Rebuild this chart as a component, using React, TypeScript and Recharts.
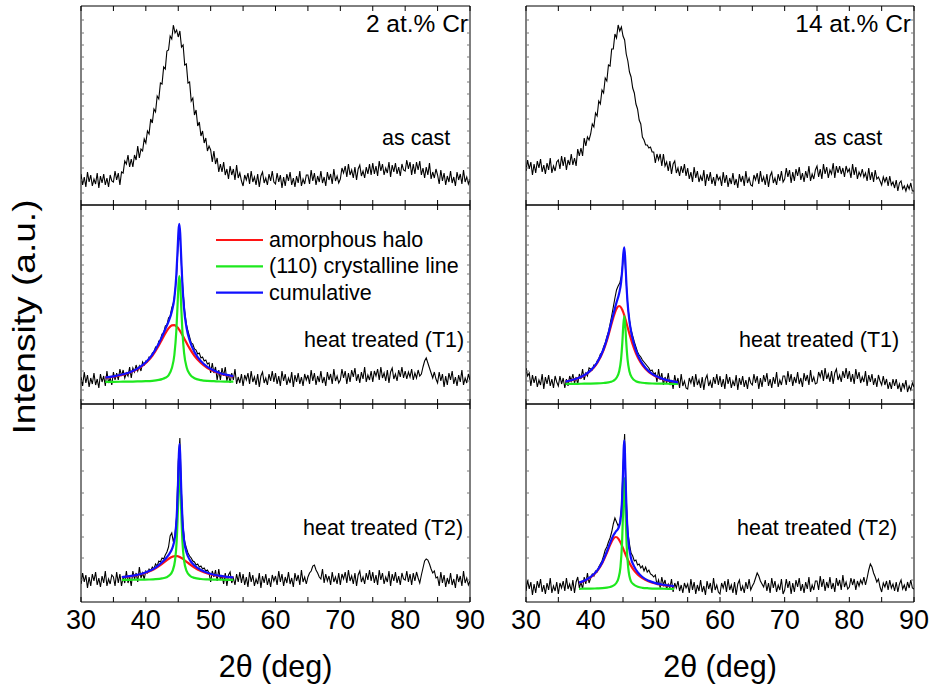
import { LineChart, Line, XAxis, YAxis } from 'recharts'

// XRD patterns, intensity in arbitrary units (height above the panel floor)
// every trace is sampled from 30 to 90 deg in 0.25 deg steps
const X_START = 30
const X_STEP = 0.25

const CAST_2CR = [
	31, 20, 28, 18, 33, 23, 30, 19, 26, 21, 32, 17, 29, 22, 31, 20, 27, 18, 30, 24,
	23, 34, 25, 32, 20, 33, 32, 44, 41, 50, 38, 46, 38, 50, 45, 59, 47, 56, 54, 66,
	62, 74, 71, 86, 82, 96, 93, 109, 106, 122, 121, 138, 136, 154, 155, 169, 166, 180, 172, 175,
	168, 174, 158, 160, 140, 141, 122, 123, 104, 107, 90, 95, 79, 83, 69, 74, 62, 67, 54, 59,
	55, 43, 54, 41, 47, 33, 41, 33, 43, 30, 36, 26, 39, 30, 36, 25, 40, 27, 32, 24,
	19, 30, 25, 32, 21, 34, 23, 28, 20, 31, 18, 29, 33, 22, 27, 20, 31, 24, 34, 23,
	21, 32, 23, 30, 17, 28, 19, 31, 24, 33, 20, 27, 18, 29, 22, 34, 19, 26, 21, 30,
	30, 21, 35, 24, 32, 20, 29, 23, 34, 22, 28, 19, 33, 25, 31, 21, 36, 24, 29, 22,
	26, 37, 32, 39, 28, 41, 30, 35, 27, 38, 25, 36, 40, 29, 34, 27, 38, 31, 41, 30,
	42, 31, 39, 29, 44, 34, 41, 30, 37, 32, 43, 28, 40, 33, 42, 31, 38, 29, 41, 35,
	34, 45, 36, 43, 30, 41, 31, 43, 35, 44, 30, 37, 27, 38, 30, 42, 26, 33, 27, 36,
	30, 21, 35, 24, 32, 20, 29, 23, 34, 22, 28, 19, 33, 25, 31, 21, 35, 23, 28, 21,
	26,
]

const CAST_14CR = [
	34, 45, 36, 43, 30, 41, 32, 44, 37, 46, 33, 40, 31, 42, 35, 47, 32, 39, 34, 43,
	45, 36, 49, 39, 48, 35, 45, 40, 51, 40, 47, 39, 56, 49, 57, 49, 67, 59, 68, 65,
	71, 81, 78, 92, 89, 104, 101, 115, 112, 127, 124, 140, 139, 156, 156, 171, 167, 180, 174, 178,
	169, 165, 151, 144, 133, 128, 117, 112, 101, 96, 85, 81, 68, 65, 60, 60, 57, 58, 53, 53,
	42, 51, 45, 51, 39, 51, 39, 43, 34, 44, 31, 41, 44, 32, 37, 29, 39, 32, 41, 29,
	37, 26, 33, 23, 38, 27, 34, 23, 29, 24, 35, 19, 31, 24, 33, 21, 28, 19, 31, 25,
	28, 19, 33, 22, 30, 18, 27, 21, 32, 20, 26, 17, 31, 23, 29, 19, 34, 22, 27, 20,
	19, 30, 25, 32, 21, 34, 23, 28, 20, 31, 18, 29, 33, 22, 27, 20, 31, 24, 34, 23,
	26, 37, 28, 35, 22, 33, 24, 36, 29, 38, 25, 32, 23, 34, 27, 39, 24, 31, 26, 35,
	39, 28, 36, 26, 41, 31, 38, 27, 35, 31, 42, 27, 39, 32, 39, 31, 37, 28, 39, 33,
	36, 27, 41, 30, 38, 26, 33, 29, 36, 28, 32, 24, 37, 25, 33, 23, 35, 26, 28, 24,
	20, 28, 23, 28, 19, 29, 20, 23, 17, 25, 14, 22, 24, 16, 19, 14, 20, 16, 22, 14,
	14,
]

const T1_2CR = [
	27, 18, 32, 21, 29, 17, 26, 20, 31, 19, 25, 16, 30, 22, 28, 18, 33, 21, 26, 19,
	32, 24, 31, 24, 35, 28, 34, 26, 31, 28, 37, 26, 36, 32, 39, 33, 38, 33, 42, 39,
	43, 42, 47, 46, 51, 52, 57, 56, 63, 64, 70, 71, 78, 79, 86, 88, 96, 101, 112, 130,
	162, 170, 138, 112, 93, 80, 73, 67, 61, 60, 55, 54, 50, 51, 46, 47, 43, 44, 40, 41,
	31, 41, 31, 37, 24, 34, 24, 36, 28, 37, 23, 30, 21, 31, 24, 35, 20, 27, 21, 30,
	18, 29, 24, 31, 20, 33, 22, 27, 19, 30, 17, 28, 32, 21, 26, 19, 30, 23, 33, 22,
	31, 20, 28, 18, 33, 23, 30, 19, 26, 21, 32, 17, 29, 22, 31, 20, 27, 18, 30, 24,
	29, 20, 34, 23, 31, 19, 28, 22, 33, 21, 27, 18, 32, 24, 30, 20, 35, 23, 28, 21,
	24, 35, 26, 33, 20, 31, 22, 34, 27, 36, 23, 30, 21, 32, 25, 37, 22, 29, 24, 33,
	22, 33, 28, 35, 24, 37, 26, 31, 23, 34, 21, 32, 36, 25, 30, 23, 34, 27, 37, 26,
	33, 25, 32, 27, 35, 24, 31, 26, 34, 28, 30, 37, 43, 46, 41, 36, 31, 26, 32, 25,
	21, 32, 23, 30, 17, 28, 19, 31, 24, 33, 20, 27, 18, 29, 22, 34, 19, 26, 21, 30,
	24,
]

const T1_14CR = [
	36, 28, 31, 18, 29, 21, 28, 17, 24, 19, 30, 15, 27, 20, 29, 18, 25, 16, 28, 22,
	18, 28, 20, 26, 16, 25, 18, 28, 23, 30, 21, 27, 20, 30, 25, 35, 24, 31, 28, 36,
	35, 34, 39, 38, 43, 45, 50, 51, 57, 61, 67, 72, 80, 88, 97, 106, 114, 118, 121, 128,
	143, 150, 122, 97, 84, 74, 68, 62, 57, 52, 49, 47, 44, 42, 40, 38, 36, 33, 34, 30,
	31, 22, 35, 24, 31, 19, 27, 21, 31, 19, 24, 15, 29, 20, 26, 16, 30, 18, 23, 16,
	15, 26, 21, 28, 17, 30, 19, 24, 16, 27, 14, 25, 29, 18, 23, 16, 27, 20, 30, 19,
	28, 17, 25, 15, 30, 20, 27, 16, 23, 18, 29, 14, 26, 19, 28, 17, 24, 15, 27, 21,
	19, 30, 21, 28, 15, 26, 17, 29, 22, 31, 18, 25, 16, 27, 20, 32, 17, 24, 19, 28,
	28, 19, 33, 22, 30, 18, 27, 21, 32, 20, 26, 17, 31, 23, 29, 19, 34, 22, 27, 20,
	21, 32, 27, 34, 23, 36, 25, 30, 22, 33, 20, 31, 35, 24, 29, 22, 33, 26, 36, 25,
	33, 22, 30, 20, 35, 25, 32, 21, 27, 22, 33, 18, 29, 22, 30, 19, 26, 17, 29, 23,
	19, 28, 19, 25, 15, 22, 15, 25, 18, 25, 15, 20, 12, 21, 16, 24, 12, 18, 14, 21,
	17,
]

const T2_2CR = [
	18, 29, 20, 27, 14, 25, 16, 28, 21, 30, 17, 24, 15, 26, 19, 31, 16, 23, 18, 27,
	25, 16, 30, 19, 28, 16, 25, 19, 31, 19, 25, 16, 31, 23, 29, 20, 35, 24, 29, 23,
	31, 29, 33, 31, 35, 33, 38, 36, 41, 40, 44, 43, 47, 50, 55, 66, 69, 60, 67, 86,
	140, 164, 108, 75, 60, 54, 49, 46, 44, 41, 40, 37, 38, 35, 36, 33, 34, 31, 32, 29,
	20, 31, 25, 32, 21, 33, 22, 27, 18, 29, 16, 27, 30, 19, 24, 17, 28, 20, 30, 19,
	28, 17, 25, 15, 30, 20, 27, 16, 23, 18, 29, 14, 26, 19, 28, 17, 24, 15, 27, 21,
	26, 17, 31, 20, 28, 16, 25, 19, 30, 18, 24, 15, 29, 21, 27, 17, 32, 20, 25, 18,
	25, 29, 31, 36, 37, 32, 29, 25, 23, 33, 19, 28, 21, 26, 17, 30, 20, 25, 18, 29,
	17, 28, 23, 30, 19, 32, 21, 26, 18, 29, 16, 27, 31, 20, 25, 18, 29, 22, 32, 21,
	30, 19, 27, 17, 32, 22, 29, 18, 25, 20, 31, 16, 28, 21, 30, 19, 26, 17, 29, 23,
	22, 31, 20, 28, 17, 29, 21, 30, 24, 19, 27, 34, 41, 43, 42, 38, 33, 29, 31, 24,
	25, 16, 30, 19, 27, 15, 24, 18, 29, 17, 23, 14, 28, 20, 26, 16, 31, 19, 24, 17,
	21,
]

const T2_14CR = [
	11, 22, 13, 20, 7, 18, 9, 21, 14, 23, 10, 17, 8, 19, 12, 24, 9, 16, 11, 20,
	8, 19, 14, 21, 11, 24, 13, 18, 11, 22, 9, 20, 25, 14, 20, 13, 25, 18, 29, 19,
	24, 28, 26, 31, 30, 35, 38, 41, 46, 52, 55, 60, 64, 70, 78, 84, 80, 76, 79, 93,
	132, 168, 104, 70, 58, 49, 46, 41, 42, 37, 38, 34, 36, 31, 35, 30, 32, 28, 27, 25,
	27, 17, 22, 14, 25, 17, 22, 13, 18, 14, 23, 10, 19, 14, 21, 11, 17, 9, 19, 14,
	18, 9, 23, 12, 20, 8, 17, 11, 22, 10, 16, 7, 21, 13, 19, 9, 24, 12, 17, 10,
	8, 19, 14, 21, 10, 23, 12, 17, 9, 20, 7, 18, 22, 11, 16, 9, 20, 13, 23, 12,
	16, 19, 24, 29, 26, 21, 18, 15, 22, 11, 19, 9, 24, 14, 21, 10, 17, 12, 23, 8,
	12, 23, 14, 21, 8, 19, 10, 22, 15, 24, 11, 18, 9, 20, 13, 25, 10, 17, 12, 21,
	21, 12, 26, 15, 23, 11, 20, 14, 25, 13, 19, 10, 24, 16, 22, 12, 27, 15, 20, 13,
	15, 24, 17, 23, 12, 21, 16, 22, 18, 25, 17, 24, 32, 38, 35, 29, 25, 20, 23, 15,
	10, 19, 15, 21, 12, 22, 14, 18, 11, 20, 10, 18, 22, 13, 17, 11, 20, 14, 22, 14,
	13,
]

// peak fits: amorphous halo (red), (110) line (green), cumulative (blue)
const FIT_T1_2CR_X = [33.75, 35, 36.5, 38, 39, 40, 41, 42, 42.5, 43, 43.5, 44, 44.4, 44.7, 44.9, 45.05, 45.17, 45.3, 45.45, 45.65, 45.9, 46.3, 46.8, 47.5, 48.5, 49.5, 50.5, 51.5, 52.5, 53.5]
const FIT_T1_2CR_HALO = [26.3, 27.4, 29.4, 32.7, 36.0, 41.0, 48.2, 58.5, 64.5, 70.6, 75.6, 78.6, 78.9, 77.7, 76.4, 75.2, 74.1, 72.8, 71.1, 68.8, 65.8, 60.9, 55.1, 48.2, 41.0, 36.0, 32.7, 30.3, 28.7, 27.4]
const FIT_T1_2CR_LINE = [22.2, 22.2, 22.3, 22.4, 22.6, 22.8, 23.2, 24.1, 24.9, 26.2, 28.7, 35.7, 49.0, 72.7, 99.9, 121, 128, 119.8, 98.4, 71.6, 51.2, 36.5, 29.6, 25.8, 23.9, 23.1, 22.8, 22.5, 22.4, 22.3]
const FIT_T1_2CR_SUM = [26.5, 27.6, 29.7, 33.1, 36.6, 41.8, 49.4, 60.5, 67.4, 74.8, 82.3, 92.3, 105.9, 128.4, 154.3, 174.2, 180.1, 170.6, 147.5, 118.4, 95.0, 75.4, 62.7, 52.0, 42.9, 37.1, 33.4, 30.8, 29.1, 27.7]

const FIT_T1_14CR_X = [36.1, 37, 38, 39, 40, 41, 42, 42.5, 43, 43.5, 44, 44.4, 44.7, 44.9, 45.05, 45.2, 45.35, 45.5, 45.7, 46, 46.4, 47, 47.7, 48.5, 49.5, 50.5, 51.5, 52.5, 53.5]
const FIT_T1_14CR_HALO = [22.3, 23.6, 25.6, 28.5, 33.2, 40.9, 54.0, 63.4, 74.7, 86.4, 95.4, 98.0, 96.5, 94.0, 91.5, 88.6, 85.2, 81.8, 77.0, 70.0, 61.4, 50.8, 41.9, 35.1, 29.7, 26.3, 24.1, 22.6, 21.5]
const FIT_T1_14CR_LINE = [20.1, 20.1, 20.2, 20.3, 20.4, 20.6, 21.0, 21.3, 22.0, 23.2, 26.2, 32.5, 44.9, 61.9, 78.8, 88.0, 78.8, 61.9, 44.9, 32.5, 26.2, 22.8, 21.5, 20.9, 20.5, 20.4, 20.3, 20.2, 20.2]
const FIT_T1_14CR_SUM = [22.4, 23.7, 25.8, 28.8, 33.6, 41.5, 55.0, 64.7, 76.7, 89.6, 101.6, 110.5, 121.4, 135.9, 150.3, 156.6, 144.0, 123.7, 101.9, 82.5, 67.6, 53.6, 43.4, 36.0, 30.2, 26.7, 24.4, 22.8, 21.6]

const FIT_T2_2CR_X = [36.3, 37.5, 38.5, 39.5, 40.5, 41.5, 42.5, 43.2, 43.7, 44.1, 44.5, 44.75, 44.95, 45.1, 45.2, 45.3, 45.45, 45.65, 45.9, 46.3, 46.8, 47.5, 48.5, 49.5, 50.5, 51.5, 52.5, 53.5]
const FIT_T2_2CR_HALO = [24.8, 25.6, 26.7, 28.2, 30.4, 33.6, 38.1, 41.7, 44.0, 45.3, 46.0, 45.9, 45.7, 45.3, 45.1, 44.8, 44.2, 43.4, 42.2, 40.2, 37.6, 34.4, 30.9, 28.5, 26.9, 25.8, 25.0, 24.5]
const FIT_T2_2CR_LINE = [22.1, 22.2, 22.3, 22.4, 22.5, 22.8, 23.6, 24.8, 26.9, 30.8, 41.5, 60.0, 92.2, 124.9, 135.0, 124.9, 92.2, 60.0, 41.5, 30.8, 26.3, 24.1, 23.0, 22.6, 22.4, 22.3, 22.2, 22.2]
const FIT_T2_2CR_SUM = [24.9, 25.8, 26.9, 28.5, 30.9, 34.4, 39.7, 44.5, 48.9, 54.1, 65.5, 83.9, 115.9, 148.2, 158.1, 147.7, 114.4, 81.4, 61.7, 49.0, 41.9, 36.5, 32.0, 29.2, 27.3, 26.1, 25.2, 24.6]

const FIT_T2_14CR_X = [38.2, 39, 40, 41, 41.8, 42.5, 43, 43.5, 43.9, 44.3, 44.6, 44.85, 45.0, 45.1, 45.2, 45.3, 45.4, 45.55, 45.8, 46.2, 46.7, 47.3, 48, 49, 50, 51, 52, 52.9]
const FIT_T2_14CR_HALO = [19.2, 21.1, 24.7, 30.9, 39.0, 49.0, 56.9, 63.2, 65.0, 63.2, 59.8, 56.2, 53.8, 52.2, 50.6, 49.0, 47.4, 45.2, 41.6, 36.6, 31.7, 27.4, 23.8, 20.5, 18.5, 17.2, 16.3, 15.7]
const FIT_T2_14CR_LINE = [13.2, 13.3, 13.4, 13.6, 13.8, 14.3, 15.0, 16.3, 18.5, 23.8, 34.6, 58.8, 87.8, 113.2, 124.0, 113.2, 87.8, 58.8, 34.6, 21.2, 17.2, 15.2, 14.2, 13.7, 13.4, 13.3, 13.2, 13.2]
const FIT_T2_14CR_SUM = [19.4, 21.3, 25.1, 31.4, 39.8, 50.3, 58.9, 66.5, 70.5, 74.0, 81.4, 102.0, 128.6, 152.4, 161.6, 149.2, 122.2, 91.0, 63.2, 44.8, 35.9, 29.6, 25.0, 21.2, 18.9, 17.5, 16.5, 15.9]

const X_TICKS = [30, 35, 40, 45, 50, 55, 60, 65, 70, 75, 80, 85, 90]
const X_LABELS = [30, 40, 50, 60, 70, 80, 90]

// unlabelled intensity ticks, one set per row of panels
const Y_TICKS_CAST = [12, 25, 37, 49, 62, 74, 86, 99, 111, 123, 136, 148, 160, 172, 185]
const Y_TICKS_T1 = [4, 14, 23, 33, 43, 52, 62, 72, 81, 91, 101, 110, 120, 130, 139, 149, 159, 168, 178, 188]
const Y_TICKS_T2 = [22, 44, 65, 87, 109, 131, 152, 174]

const FONT = '"Liberation Sans", Arial, Helvetica, sans-serif'
const RED = '#ff1414'
const GREEN = '#1ee81e'
const BLUE = '#1010ff'
const M = 20

type Fit = { x: number[]; halo: number[]; line: number[]; sum: number[] }

type Row = { x: number; y?: number; halo?: number; line?: number; sum?: number }

// one table per panel, keyed by 2theta; the fit columns only exist on their own grid
function buildRows(values: number[], fit?: Fit): Row[] {
	const rows: Row[] = values.map((y, i) => ({ x: X_START + i * X_STEP, y }))
	if (fit) {
		fit.x.forEach((x, i) => {
			rows.push({ x, halo: fit.halo[i], line: fit.line[i], sum: fit.sum[i] })
		})
	}
	return rows.sort((a, b) => a.x - b.x)
}

// tick marks only, the inner axes carry no labels
const noLabel = () => <g />

interface PanelProps {
	left: number
	top: number
	width: number
	height: number
	values: number[]
	fit?: Fit
	yTicks: number[]
	bottom?: boolean
}

function Panel({ left, top, width, height, values, fit, yTicks, bottom }: PanelProps) {
	const mb = bottom ? 5 : M
	const chartHeight = height + M + mb + (bottom ? 80 : 0)
	const rows = buildRows(values, fit)

	const fitLine = (key: string, color: string) => (
		<Line
			xAxisId="b"
			yAxisId="l"
			dataKey={key}
			type="monotone"
			stroke={color}
			strokeWidth={2.2}
			dot={false}
			connectNulls
			isAnimationActive={false}
		/>
	)

	return (
		<div style={{ position: 'absolute', left: left - M, top: top - M }}>
			<LineChart
				width={width + 2 * M}
				height={chartHeight}
				data={rows}
				margin={{ top: M, right: M, bottom: mb, left: M }}
			>
				<XAxis
					xAxisId="b"
					dataKey="x"
					type="number"
					orientation="bottom"
					mirror
					domain={[30, 90]}
					ticks={X_TICKS}
					interval={0}
					allowDataOverflow
					tick={noLabel}
					tickSize={5}
					stroke="#000"
				/>
				<XAxis
					xAxisId="t"
					dataKey="x"
					type="number"
					orientation="top"
					mirror
					domain={[30, 90]}
					ticks={X_TICKS}
					interval={0}
					allowDataOverflow
					tick={noLabel}
					tickSize={5}
					stroke="#000"
				/>
				{bottom && (
					<XAxis
						xAxisId="lab"
						dataKey="x"
						type="number"
						orientation="bottom"
						height={80}
						domain={[30, 90]}
						ticks={X_LABELS}
						interval={0}
						allowDataOverflow
						axisLine={false}
						tickLine={false}
						tick={{ fill: '#000', fontSize: 27, fontFamily: FONT }}
						label={{
							value: '2θ (deg)',
							position: 'insideBottom',
							offset: 5,
							fill: '#000',
							fontSize: 30.5,
							fontFamily: FONT,
						}}
					/>
				)}
				<YAxis
					yAxisId="l"
					type="number"
					orientation="left"
					mirror
					domain={[0, height]}
					ticks={yTicks}
					interval={0}
					allowDataOverflow
					tick={noLabel}
					tickSize={3}
					axisLine={{ stroke: '#000' }}
					tickLine={{ stroke: '#777' }}
				/>
				<YAxis
					yAxisId="r"
					type="number"
					orientation="right"
					mirror
					domain={[0, height]}
					ticks={yTicks}
					interval={0}
					allowDataOverflow
					tick={noLabel}
					tickSize={3}
					axisLine={{ stroke: '#000' }}
					tickLine={{ stroke: '#777' }}
				/>
				<Line
					xAxisId="b"
					yAxisId="l"
					dataKey="y"
					type="linear"
					stroke="#000"
					strokeWidth={1.1}
					dot={false}
					connectNulls
					isAnimationActive={false}
				/>
				{fit && fitLine('halo', RED)}
				{fit && fitLine('line', GREEN)}
				{fit && fitLine('sum', BLUE)}
			</LineChart>
		</div>
	)
}

const LEGEND = [
	{ name: 'amorphous halo', color: RED },
	{ name: '(110) crystalline line', color: GREEN },
	{ name: 'cumulative', color: BLUE },
]

export default function App() {
	const label = { fontFamily: FONT, fontSize: 21.5, fill: '#000' }
	const title = { fontFamily: FONT, fontSize: 24.5, fill: '#000' }
	return (
		<div
			style={{
				position: 'absolute',
				left: 0,
				top: 0,
				width: 932,
				height: 693,
				overflow: 'hidden',
				background: '#fff',
			}}
		>
			<Panel left={81} top={6} width={389} height={199} values={CAST_2CR} yTicks={Y_TICKS_CAST} />
			<Panel
				left={81}
				top={205}
				width={389}
				height={199}
				values={T1_2CR}
				yTicks={Y_TICKS_T1}
				fit={{ x: FIT_T1_2CR_X, halo: FIT_T1_2CR_HALO, line: FIT_T1_2CR_LINE, sum: FIT_T1_2CR_SUM }}
			/>
			<Panel
				left={81}
				top={404}
				width={389}
				height={198}
				values={T2_2CR}
				yTicks={Y_TICKS_T2}
				fit={{ x: FIT_T2_2CR_X, halo: FIT_T2_2CR_HALO, line: FIT_T2_2CR_LINE, sum: FIT_T2_2CR_SUM }}
				bottom
			/>
			<Panel left={526} top={6} width={388} height={199} values={CAST_14CR} yTicks={Y_TICKS_CAST} />
			<Panel
				left={526}
				top={205}
				width={388}
				height={199}
				values={T1_14CR}
				yTicks={Y_TICKS_T1}
				fit={{ x: FIT_T1_14CR_X, halo: FIT_T1_14CR_HALO, line: FIT_T1_14CR_LINE, sum: FIT_T1_14CR_SUM }}
			/>
			<Panel
				left={526}
				top={404}
				width={388}
				height={198}
				values={T2_14CR}
				yTicks={Y_TICKS_T2}
				fit={{ x: FIT_T2_14CR_X, halo: FIT_T2_14CR_HALO, line: FIT_T2_14CR_LINE, sum: FIT_T2_14CR_SUM }}
				bottom
			/>

			{/* annotations, legend and the shared y title */}
			<svg
				width={932}
				height={693}
				style={{ position: 'absolute', left: 0, top: 0, pointerEvents: 'none' }}
			>
				<text x={468} y={32} textAnchor="end" {...title}>2 at.% Cr</text>
				<text x={911} y={32} textAnchor="end" {...title}>14 at.% Cr</text>
				<text x={382} y={145} {...label}>as cast</text>
				<text x={814} y={145} {...label}>as cast</text>
				<text x={304} y={347} {...label}>heat treated (T1)</text>
				<text x={739} y={347} {...label}>heat treated (T1)</text>
				<text x={303} y={535} {...label}>heat treated (T2)</text>
				<text x={737} y={535} {...label}>heat treated (T2)</text>

				{LEGEND.map((item, i) => (
					<g key={item.name}>
						<line
							x1={216}
							x2={263}
							y1={240 + i * 26.3}
							y2={240 + i * 26.3}
							stroke={item.color}
							strokeWidth={2.2}
						/>
						<text x={269} y={247 + i * 26.3} {...label}>
							{item.name}
						</text>
					</g>
				))}

				<text
					x={35}
					y={317}
					transform="rotate(-90 35 317)"
					textAnchor="middle"
					textLength={235}
					lengthAdjust="spacingAndGlyphs"
					fontFamily={FONT}
					fontSize={31}
					fill="#000"
				>
					Intensity (a.u.)
				</text>
			</svg>
		</div>
	)
}
